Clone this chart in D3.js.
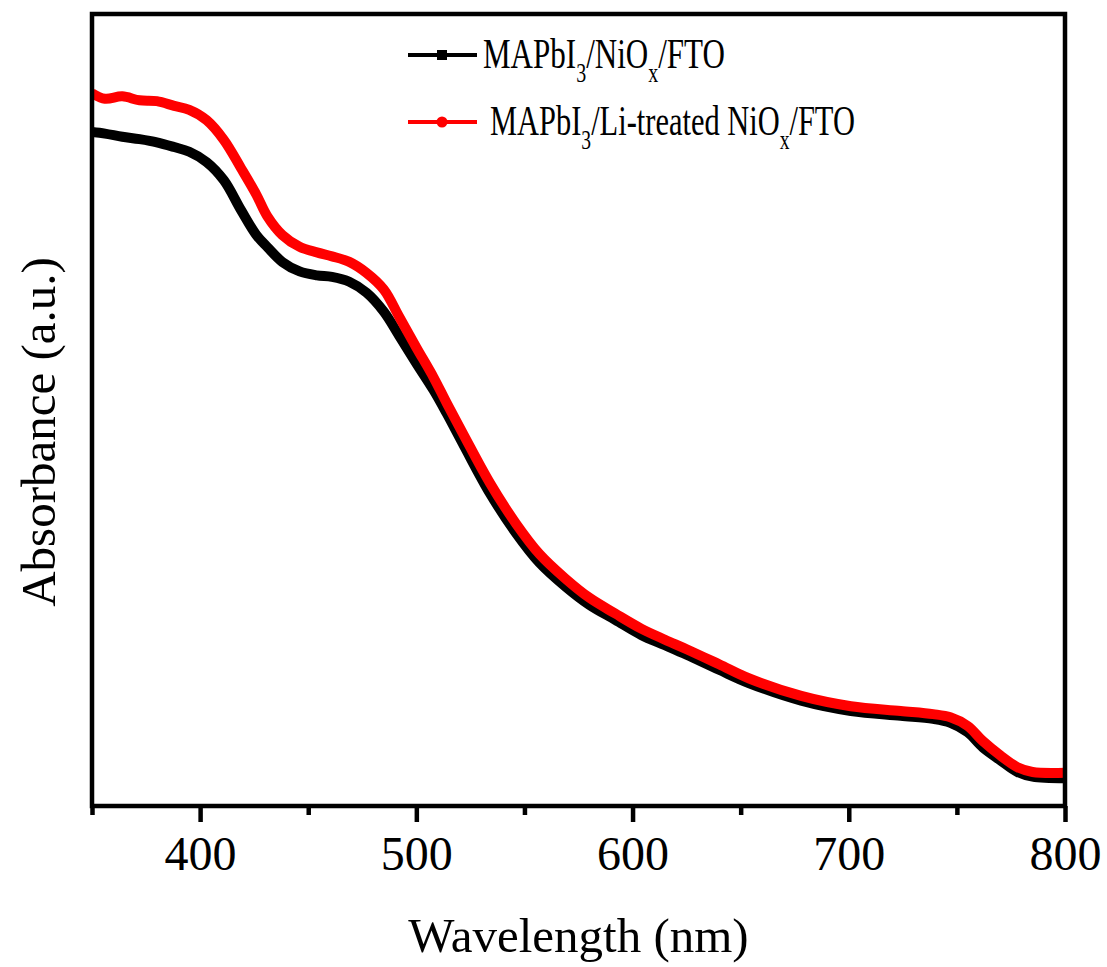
<!DOCTYPE html>
<html>
<head>
<meta charset="utf-8">
<script src="https://cdn.jsdelivr.net/npm/d3@7/dist/d3.min.js"></script>
<style>
  html, body { margin: 0; padding: 0; background: #fff; }
  svg { display: block; }
  text { font-family: "Times New Roman", "Liberation Serif", serif; fill: #000; }
</style>
</head>
<body>
<script>
// wavelength (nm) sample points
const wavelengths = [350, 356, 364, 372, 380, 388, 395, 403, 411, 419, 426, 431, 438, 446, 454, 461, 469, 477, 485, 492,
  500, 508, 514, 522, 534, 546, 557, 569, 580, 592, 604, 615, 625, 640, 654, 678, 701, 724, 739, 747,
  755, 762, 770, 778, 785, 800];

// MAPbI3/NiOx/FTO (black)
const absNiOx = [0.851, 0.849, 0.845, 0.842, 0.838, 0.832, 0.826, 0.813, 0.790, 0.752, 0.721, 0.706, 0.687, 0.675, 0.670, 0.668, 0.662, 0.648, 0.624, 0.594,
  0.559, 0.525, 0.496, 0.455, 0.395, 0.345, 0.307, 0.277, 0.254, 0.235, 0.216, 0.203, 0.191, 0.172, 0.155, 0.133, 0.120, 0.114, 0.110, 0.105,
  0.093, 0.074, 0.058, 0.043, 0.037, 0.035];

// MAPbI3/Li-treated NiOx/FTO (red)
const absLiNiOx = [0.900, 0.893, 0.896, 0.891, 0.890, 0.884, 0.879, 0.866, 0.841, 0.805, 0.772, 0.745, 0.721, 0.706, 0.699, 0.694, 0.687, 0.673, 0.652, 0.618,
  0.579, 0.541, 0.509, 0.468, 0.408, 0.357, 0.318, 0.287, 0.263, 0.243, 0.224, 0.210, 0.198, 0.179, 0.161, 0.139, 0.126, 0.120, 0.116, 0.112,
  0.101, 0.082, 0.064, 0.049, 0.043, 0.042];

const majorTicks = [400, 500, 600, 700, 800];
const minorTicks = [350, 450, 550, 650, 750];

const width = 1107;
const height = 967;
const margin = { top: 14, right: 42, bottom: 161, left: 92 };

const svg = d3.select('body').append('svg')
  .attr('width', width)
  .attr('height', height);

const x = d3.scaleLinear()
  .domain([350, 800])
  .range([margin.left, width - margin.right]);

const y = d3.scaleLinear()
  .domain([0, 1])
  .range([height - margin.bottom, margin.top]);

// clip curves to the plot frame
svg.append('clipPath').attr('id', 'plotClip')
  .append('rect')
  .attr('x', margin.left)
  .attr('y', margin.top)
  .attr('width', x.range()[1] - margin.left)
  .attr('height', y.range()[0] - margin.top);

const line = d3.line()
  .x(d => x(d[0]))
  .y(d => y(d[1]))
  .curve(d3.curveCatmullRom.alpha(0.5));

const series = [
  { name: 'black', values: absNiOx, color: '#000000', width: 10 },
  { name: 'red', values: absLiNiOx, color: '#ff0000', width: 10 }
];

const curves = svg.append('g').attr('clip-path', 'url(#plotClip)');
series.forEach(s => {
  curves.append('path')
    .datum(wavelengths.map((w, i) => [w, s.values[i]]))
    .attr('fill', 'none')
    .attr('stroke', s.color)
    .attr('stroke-width', s.width)
    .attr('stroke-linejoin', 'round')
    .attr('d', line);
});

// frame
svg.append('rect')
  .attr('x', margin.left)
  .attr('y', margin.top)
  .attr('width', x.range()[1] - margin.left)
  .attr('height', y.range()[0] - margin.top)
  .attr('fill', 'none')
  .attr('stroke', '#000')
  .attr('stroke-width', 4.5);

// bottom axis: major ticks with labels
const xAxis = svg.append('g')
  .attr('transform', `translate(0,${y.range()[0]})`)
  .call(d3.axisBottom(x).tickValues(majorTicks).tickSize(16).tickSizeOuter(0).tickPadding(14).tickFormat(d3.format('d')));
xAxis.select('.domain').remove();
xAxis.selectAll('line').attr('stroke', '#000').attr('stroke-width', 4.5);
xAxis.selectAll('text')
  .style('font-family', '"Times New Roman", "Liberation Serif", serif')
  .attr('font-size', 48);

// minor ticks
const xMinor = svg.append('g')
  .attr('transform', `translate(0,${y.range()[0]})`)
  .call(d3.axisBottom(x).tickValues(minorTicks).tickSize(9).tickSizeOuter(0).tickFormat(''));
xMinor.select('.domain').remove();
xMinor.selectAll('line').attr('stroke', '#000').attr('stroke-width', 4.5);

// axis titles
svg.append('text')
  .attr('x', (margin.left + x.range()[1]) / 2)
  .attr('y', 952)
  .attr('text-anchor', 'middle')
  .attr('font-size', 49)
  .text('Wavelength (nm)');

svg.append('text')
  .attr('transform', 'translate(55,432) rotate(-90)')
  .attr('text-anchor', 'middle')
  .attr('font-size', 49)
  .text('Absorbance (a.u.)');

// legend
const legendRows = [
  { color: '#000000', marker: 'square', y: 55, textX: 483, width: 242, parts: [['MAPbI', 0], ['3', 1], ['/NiO', 0], ['x', 1], ['/FTO', 0]] },
  { color: '#ff0000', marker: 'circle', y: 122, textX: 490, width: 365, parts: [['MAPbI', 0], ['3', 1], ['/Li-treated NiO', 0], ['x', 1], ['/FTO', 0]] }
];

legendRows.forEach(r => {
  const g = svg.append('g');
  g.append('line')
    .attr('x1', 408).attr('x2', 477)
    .attr('y1', r.y).attr('y2', r.y)
    .attr('stroke', r.color)
    .attr('stroke-width', 4);
  if (r.marker === 'square') {
    g.append('rect')
      .attr('x', 442 - 5).attr('y', r.y - 5)
      .attr('width', 10).attr('height', 10)
      .attr('fill', r.color);
  } else {
    g.append('circle')
      .attr('cx', 442).attr('cy', r.y)
      .attr('r', 5.5)
      .attr('fill', r.color);
  }
  const t = g.append('text')
    .attr('font-size', 42);
  let sub = false;
  r.parts.forEach(p => {
    const isSub = p[1] === 1;
    const ts = t.append('tspan').text(p[0]);
    if (isSub) {
      ts.attr('font-size', 27).attr('dy', 14);
    } else if (sub) {
      ts.attr('dy', -14);
    }
    sub = isSub;
  });
  // legend text in the figure is horizontally condensed
  const w = t.node().getComputedTextLength();
  const sx = r.width / w;
  t.attr('transform', `translate(${r.textX},${r.y + 13}) scale(${sx},1)`);
});
</script>
</body>
</html>
